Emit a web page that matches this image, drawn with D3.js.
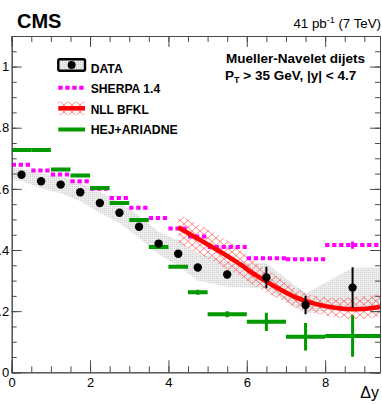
<!DOCTYPE html>
<html>
<head>
<meta charset="utf-8">
<script src="https://cdn.jsdelivr.net/npm/d3@7"></script>
<style>
  html, body { margin: 0; padding: 0; background: #fff; }
  svg { display: block; font-family: "Liberation Sans", Arial, Helvetica, sans-serif; }
</style>
</head>
<body>
<svg id="chart" width="382" height="405"></svg>
<script>
// ---- data -------------------------------------------------------------
// CMS data points (bin centres in Δy), ratio values and statistical errors
const dataX   = [0.25, 0.75, 1.25, 1.75, 2.25, 2.75, 3.25, 3.75, 4.25, 4.75, 5.5, 6.5, 7.5, 8.7];
const dataY   = [0.646, 0.625, 0.614, 0.589, 0.554, 0.522, 0.476, 0.421, 0.388, 0.343, 0.320, 0.310, 0.220, 0.277];
const dataErr = [0.004, 0.004, 0.004, 0.005, 0.005, 0.005, 0.006, 0.006, 0.007, 0.008, 0.012, 0.035, 0.030, 0.067];

// systematic uncertainty band of the data
const bandX  = [0, 0.25, 0.75, 1.25, 1.75, 2.25, 2.75, 3.25, 3.75, 4.25, 4.75, 5.5, 6.5, 7.5, 8.7, 9.4];
const bandLo = [0.628, 0.626, 0.602, 0.586, 0.560, 0.522, 0.488, 0.440, 0.386, 0.348, 0.300, 0.280, 0.274, 0.193, 0.212, 0.212];
const bandHi = [0.668, 0.667, 0.650, 0.640, 0.618, 0.590, 0.556, 0.512, 0.460, 0.430, 0.390, 0.362, 0.357, 0.258, 0.342, 0.342];

// bin edges used by the generator predictions
const binEdges = [0, 0.5, 1, 1.5, 2, 2.5, 3, 3.5, 4, 4.5, 5, 6, 7, 8, 9.4];

// SHERPA 1.4
const sherpaY   = [0.679, 0.660, 0.647, 0.625, 0.600, 0.570, 0.538, 0.505, 0.470, 0.444, 0.410, 0.373, 0.370, 0.416];
const sherpaErr = [0, 0, 0, 0, 0, 0, 0, 0, 0, 0, 0, 0, 0, 0.012];

// HEJ+ARIADNE
const hejY   = [0.727, 0.727, 0.663, 0.644, 0.603, 0.554, 0.498, 0.410, 0.345, 0.262, 0.190, 0.165, 0.116, 0.119];
const hejErr = [0, 0, 0, 0, 0, 0, 0, 0, 0, 0.008, 0.010, 0.030, 0.045, 0.068];

// NLL BFKL central curve and its uncertainty band
const nllX  = [4.25, 4.75, 5.25, 5.75, 6.25, 6.75, 7.25, 7.75, 8.25, 8.75, 9.25, 9.4];
const nllY  = [0.474, 0.437, 0.400, 0.360, 0.316, 0.278, 0.245, 0.224, 0.211, 0.206, 0.211, 0.215];
const nllLo = [0.425, 0.390, 0.355, 0.320, 0.280, 0.245, 0.212, 0.193, 0.180, 0.174, 0.179, 0.183];
const nllHi = [0.515, 0.485, 0.450, 0.410, 0.360, 0.315, 0.275, 0.250, 0.243, 0.246, 0.254, 0.258];

// axis ticks
const xMajorTicks = [0, 2, 4, 6, 8];
const xMinorTicks = d3.range(0, 9.41, 0.5);
const yMajorTicks = [0, 0.2, 0.4, 0.6, 0.8, 1];
const yMinorTicks = d3.range(0, 1.101, 0.05);

// legend entries
const legendLabels = ["DATA", "SHERPA 1.4", "NLL BFKL", "HEJ+ARIADNE"];

// ---- layout -----------------------------------------------------------
const svg = d3.select("#chart");
const frame = { left: 11.7, right: 380, top: 36, bottom: 372.3 };
const x = d3.scaleLinear().domain([0, 9.4]).range([frame.left, frame.right]);
const y = d3.scaleLinear().domain([0, 1.1]).range([frame.bottom, frame.top]);

const GREEN = "#009a00", MAGENTA = "#ff00ff", RED = "#ff0000";

const defs = svg.append("defs");
defs.append("clipPath").attr("id", "plotClip")
  .append("rect")
  .attr("x", frame.left).attr("y", frame.top)
  .attr("width", frame.right - frame.left).attr("height", frame.bottom - frame.top);

// stippled grey fill for the systematic band
const stip = defs.append("pattern").attr("id", "stipple")
  .attr("width", 2).attr("height", 2).attr("patternUnits", "userSpaceOnUse");
stip.append("rect").attr("width", 2).attr("height", 2).attr("fill", "#ededed");
stip.append("rect").attr("width", 1).attr("height", 1).attr("fill", "#d2d2d2");

// red cross-hatch for the NLL BFKL band
const hatch = defs.append("pattern").attr("id", "hatch")
  .attr("width", 8).attr("height", 7).attr("patternUnits", "userSpaceOnUse");
hatch.append("path")
  .attr("d", "M-1,-0.875 L9,7.875 M9,-0.875 L-1,7.875")
  .attr("stroke", "#ff4848").attr("stroke-width", 0.65).attr("fill", "none");

const plot = svg.append("g").attr("clip-path", "url(#plotClip)");

// data systematic band
const bandPts = bandX.map((v, i) => ({ x: v, lo: bandLo[i], hi: bandHi[i] }));
plot.append("path")
  .datum(bandPts)
  .attr("d", d3.area().x(d => x(d.x)).y0(d => y(d.lo)).y1(d => y(d.hi)))
  .attr("fill", "url(#stipple)");

// NLL BFKL band
const nllPts = nllX.map((v, i) => ({ x: v, y: nllY[i], lo: nllLo[i], hi: nllHi[i] }));
plot.append("path")
  .datum(nllPts)
  .attr("d", d3.area().curve(d3.curveMonotoneX).x(d => x(d.x)).y0(d => y(d.lo)).y1(d => y(d.hi)))
  .attr("fill", "url(#hatch)");

// binned predictions
function binned(values, errs) {
  return values.map((v, i) => ({ x0: binEdges[i], x1: binEdges[i + 1], y: v, e: errs[i] }));
}

const sherpa = binned(sherpaY, sherpaErr);
const sherpaG = plot.append("g");
sherpaG.selectAll("line.h").data(sherpa).join("line").attr("class", "h")
  .attr("x1", d => x(d.x0)).attr("x2", d => x(d.x1))
  .attr("y1", d => y(d.y)).attr("y2", d => y(d.y))
  .attr("stroke", MAGENTA).attr("stroke-width", 4).attr("stroke-dasharray", "4.3,2.7");
sherpaG.selectAll("line.v").data(sherpa.filter(d => d.e > 0)).join("line").attr("class", "v")
  .attr("x1", d => x((d.x0 + d.x1) / 2)).attr("x2", d => x((d.x0 + d.x1) / 2))
  .attr("y1", d => y(d.y - d.e)).attr("y2", d => y(d.y + d.e))
  .attr("stroke", MAGENTA).attr("stroke-width", 3);

const hej = binned(hejY, hejErr);
const hejG = plot.append("g");
hejG.selectAll("line.h").data(hej).join("line").attr("class", "h")
  .attr("x1", d => x(d.x0)).attr("x2", d => x(d.x1))
  .attr("y1", d => y(d.y)).attr("y2", d => y(d.y))
  .attr("stroke", GREEN).attr("stroke-width", 4);
hejG.selectAll("line.v").data(hej.filter(d => d.e > 0)).join("line").attr("class", "v")
  .attr("x1", d => x((d.x0 + d.x1) / 2)).attr("x2", d => x((d.x0 + d.x1) / 2))
  .attr("y1", d => y(d.y - d.e)).attr("y2", d => y(d.y + d.e))
  .attr("stroke", GREEN).attr("stroke-width", 3);

// NLL BFKL central line
plot.append("path")
  .datum(nllPts)
  .attr("d", d3.line().curve(d3.curveMonotoneX).x(d => x(d.x)).y(d => y(d.y)))
  .attr("fill", "none").attr("stroke", RED).attr("stroke-width", 4.5);

// data points with statistical errors
const pts = dataX.map((v, i) => ({ x: v, y: dataY[i], e: dataErr[i] }));
plot.append("g").selectAll("line").data(pts).join("line")
  .attr("x1", d => x(d.x)).attr("x2", d => x(d.x))
  .attr("y1", d => y(d.y - d.e)).attr("y2", d => y(d.y + d.e))
  .attr("stroke", "#000").attr("stroke-width", 2);
plot.append("g").selectAll("circle").data(pts).join("circle")
  .attr("cx", d => x(d.x)).attr("cy", d => y(d.y)).attr("r", 4.2)
  .attr("fill", "#000");

// ---- axes (ticks pointing inward) -------------------------------------
const AX = "#4a4a4a";
function styleAxis(g) {
  g.selectAll("path.domain").attr("stroke", AX).attr("stroke-width", 1);
  g.selectAll(".tick line").attr("stroke", AX).attr("stroke-width", 1);
  g.selectAll("text").attr("fill", "#000").attr("font-size", 13)
    .attr("font-family", "'Liberation Sans', Arial, sans-serif");
}

// bottom
svg.append("g").attr("transform", `translate(0,${frame.bottom})`)
  .call(d3.axisBottom(x).tickValues(xMinorTicks).tickSize(-6).tickFormat(""))
  .call(styleAxis);
svg.append("g").attr("transform", `translate(0,${frame.bottom})`)
  .call(d3.axisBottom(x).tickValues(xMajorTicks).tickSize(-12).tickPadding(5.5).tickFormat(d3.format("d")))
  .call(styleAxis);
// top
svg.append("g").attr("transform", `translate(0,${frame.top})`)
  .call(d3.axisTop(x).tickValues(xMinorTicks).tickSize(-6).tickFormat(""))
  .call(styleAxis);
svg.append("g").attr("transform", `translate(0,${frame.top})`)
  .call(d3.axisTop(x).tickValues(xMajorTicks).tickSize(-11).tickFormat(""))
  .call(styleAxis);
// left
svg.append("g").attr("transform", `translate(${frame.left},0)`)
  .call(d3.axisLeft(y).tickValues(yMinorTicks).tickSize(-5).tickFormat(""))
  .call(styleAxis);
svg.append("g").attr("transform", `translate(${frame.left},0)`)
  .call(d3.axisLeft(y).tickValues(yMajorTicks).tickSize(-10).tickPadding(2.5).tickFormat(d3.format("~g")))
  .call(styleAxis);
// right
svg.append("g").attr("transform", `translate(${frame.right},0)`)
  .call(d3.axisRight(y).tickValues(yMinorTicks).tickSize(-5).tickFormat(""))
  .call(styleAxis);
svg.append("g").attr("transform", `translate(${frame.right},0)`)
  .call(d3.axisRight(y).tickValues(yMajorTicks).tickSize(-10).tickFormat(""))
  .call(styleAxis);

// axis title
svg.append("text").attr("x", 379).attr("y", 398).attr("text-anchor", "end")
  .attr("font-size", 16).text("Δy");

// ---- labels -----------------------------------------------------------
function fitText(sel, width) {
  sel.attr("textLength", width).attr("lengthAdjust", "spacingAndGlyphs");
  return sel;
}

svg.append("text").attr("x", 17).attr("y", 28.3)
  .attr("font-size", 20).attr("font-weight", "bold").text("CMS");

const lumi = svg.append("text").attr("x", 381).attr("y", 28.3)
  .attr("text-anchor", "end").attr("font-size", 13.3);
lumi.append("tspan").text("41 pb");
lumi.append("tspan").attr("font-size", 9).attr("dy", -5).text("-1");
lumi.append("tspan").attr("dy", 5).text(" (7 TeV)");

fitText(svg.append("text").attr("x", 226).attr("y", 63.3)
  .attr("font-size", 13.5).attr("font-weight", "bold").text("Mueller-Navelet dijets"), 139);

const ptLine = svg.append("text").attr("x", 225).attr("y", 80)
  .attr("font-size", 13.5).attr("font-weight", "bold");
ptLine.append("tspan").text("P");
ptLine.append("tspan").attr("font-size", 9).attr("dy", 3).text("T");
ptLine.append("tspan").attr("dy", -3).text(" > 35 GeV, |y| < 4.7");

// ---- legend -----------------------------------------------------------
const legX = 58.3, legW = 26.7, textX = 90.7;
const rowY = [65, 87.7, 108.3, 129.5];
const textW = [32, 69.5, 58, 87];
const leg = svg.append("g");

// DATA
leg.append("rect").attr("x", legX).attr("y", 59.2).attr("width", legW).attr("height", 11.6)
  .attr("rx", 1.5).attr("fill", "url(#stipple)").attr("stroke", "#000").attr("stroke-width", 2.4);
leg.append("circle").attr("cx", legX + legW / 2).attr("cy", rowY[0]).attr("r", 4).attr("fill", "#000");
// SHERPA
leg.append("line").attr("x1", legX).attr("x2", legX + legW).attr("y1", rowY[1]).attr("y2", rowY[1])
  .attr("stroke", MAGENTA).attr("stroke-width", 4).attr("stroke-dasharray", "4.3,2.7");
// NLL BFKL
leg.append("rect").attr("x", legX).attr("y", rowY[2] - 6.5).attr("width", legW).attr("height", 13)
  .attr("fill", "url(#hatch)");
leg.append("line").attr("x1", legX).attr("x2", legX + legW).attr("y1", rowY[2]).attr("y2", rowY[2])
  .attr("stroke", RED).attr("stroke-width", 4.5);
// HEJ+ARIADNE
leg.append("line").attr("x1", legX).attr("x2", legX + legW).attr("y1", rowY[3]).attr("y2", rowY[3])
  .attr("stroke", GREEN).attr("stroke-width", 4);

const textBase = [72.5, 92.8, 113.5, 134.2];
legendLabels.forEach((t, i) => {
  fitText(leg.append("text").attr("x", textX).attr("y", textBase[i])
    .attr("font-size", 13.2).attr("font-weight", "bold").text(t), textW[i]);
});
</script>
</body>
</html>
